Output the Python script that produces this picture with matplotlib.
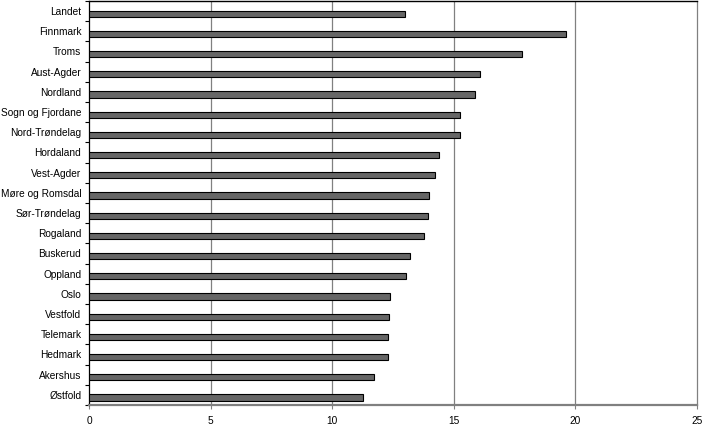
import matplotlib
matplotlib.use("Agg")
import matplotlib.pyplot as plt
import numpy as np

categories = ["Landet", "Finnmark", "Troms", "Aust-Agder", "Nordland",
              "Sogn og Fjordane", "Nord-Trøndelag", "Hordaland", "Vest-Agder",
              "Møre og Romsdal", "Sør-Trøndelag", "Rogaland", "Buskerud",
              "Oppland", "Oslo", "Vestfold", "Telemark", "Hedmark",
              "Akershus", "Østfold"]
values = [13.02, 19.63, 17.83, 16.08, 15.90, 15.28, 15.27, 14.38, 14.23,
          13.98, 13.94, 13.80, 13.22, 13.03, 12.37, 12.35, 12.30, 12.29,
          11.72, 11.26]
xticks = [0, 5, 10, 15, 20, 25]

plt.rcParams['font.family'] = ['Liberation Sans', 'DejaVu Sans']

fig = plt.figure(figsize=(7.02, 4.26), dpi=100)
ax = fig.add_axes([89/702, 1-405/426, (696.7-89)/702, (405-1)/426])

n = len(categories)
pos = np.arange(n)
ax.barh(pos + 0.13, values, height=0.3, color="#666666", edgecolor="black",
        linewidth=0.8, zorder=3)

ax.set_xlim(0, 25)
ax.set_ylim(n - 0.5, -0.5)
ax.set_xticks(xticks)
ax.set_xticklabels([str(t) for t in xticks], fontsize=7.3)
ax.set_yticks(pos)
ax.set_yticklabels(categories, fontsize=7.3)
ax.set_yticks(np.arange(n + 1) - 0.5, minor=True)
ax.tick_params(axis='y', which='major', length=0, pad=5.5)
ax.tick_params(axis='y', which='minor', length=3, width=0.8, direction='out')
ax.tick_params(axis='x', length=3, width=0.8, color="#808080", pad=5)

for t in xticks[1:-1]:
    ax.axvline(t, color="#808080", linewidth=0.9, zorder=1)

ax.spines['left'].set_color('black')
ax.spines['left'].set_linewidth(0.9)
ax.spines['top'].set_color('black')
ax.spines['top'].set_linewidth(1.0)
ax.spines['bottom'].set_color('#808080')
ax.spines['bottom'].set_linewidth(1.6)
ax.spines['right'].set_color('#808080')
ax.spines['right'].set_linewidth(0.9)

fig.savefig("out.png", dpi=100)
